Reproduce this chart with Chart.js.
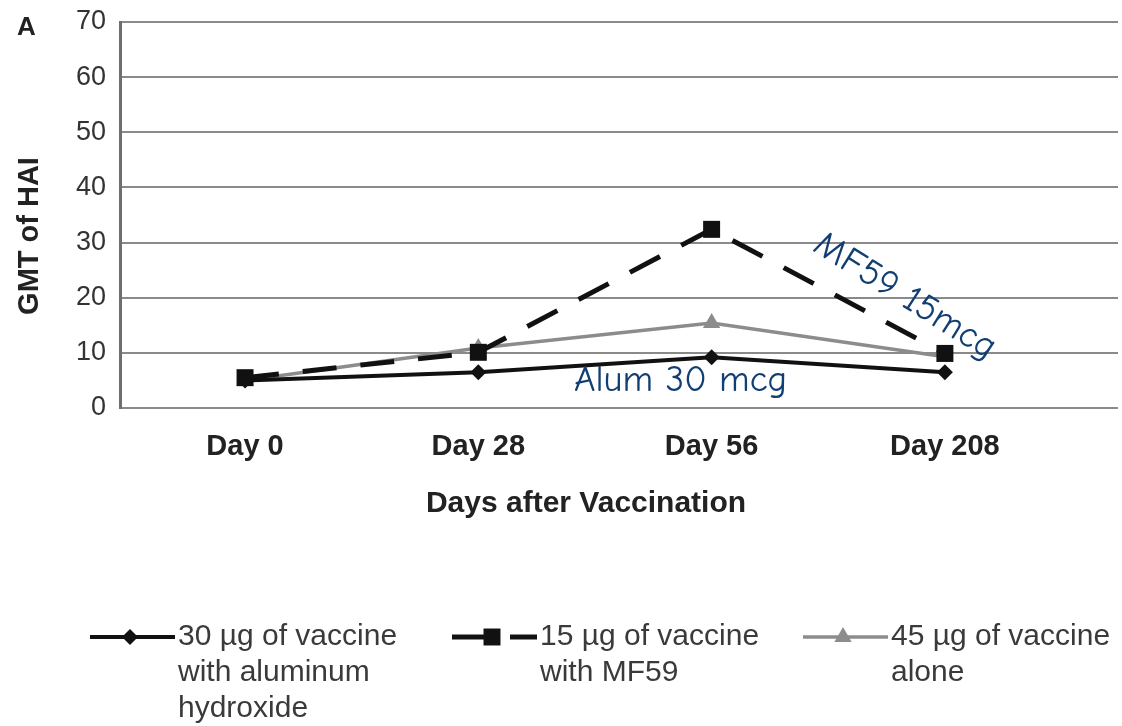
<!DOCTYPE html>
<html>
<head>
<meta charset="utf-8">
<script src="https://cdn.jsdelivr.net/npm/chart.js@4.4.1/dist/chart.umd.min.js"></script>
<style>
  html, body { margin: 0; padding: 0; background: #fff; }
  #wrap { width: 1122px; height: 726px; position: relative; }
</style>
</head>
<body>
<div id="wrap"><canvas id="hai"></canvas></div>
<script>
// data
const categories = ['Day 0', 'Day 28', 'Day 56', 'Day 208'];
const alumValues = [5.0, 6.5, 9.2, 6.5];
const mf59Values = [5.5, 10.1, 32.4, 9.9];
const aloneValues = [5.0, 10.9, 15.4, 9.3];
const yTickValues = [0, 10, 20, 30, 40, 50, 60, 70];

const legendTexts = [
    ['30 µg of vaccine', 'with aluminum', 'hydroxide'],
    ['15 µg of vaccine', 'with MF59'],
    ['45 µg of vaccine', 'alone']
];

function toPoints(values) {
    return values.map((v, i) => ({ x: i, y: v }));
}

// little marker drawer for the hand made legend
function drawMarker(ctx, style, x, y, r, color) {
    ctx.save();
    ctx.fillStyle = color;
    ctx.beginPath();
    if (style === 'rectRot') {
        ctx.moveTo(x - r, y); ctx.lineTo(x, y - r); ctx.lineTo(x + r, y); ctx.lineTo(x, y + r);
    } else if (style === 'rect') {
        let s = r * Math.SQRT1_2;
        ctx.rect(x - s, y - s, 2 * s, 2 * s);
    } else {
        let w = r * 0.866;
        ctx.moveTo(x, y - r); ctx.lineTo(x + w, y + r * 0.5); ctx.lineTo(x - w, y + r * 0.5);
    }
    ctx.closePath();
    ctx.fill();
    ctx.restore();
}

const extras = {
    id: 'extras',
    afterDraw(chart) {
        const ctx = chart.ctx;
        ctx.save();

        // panel letter
        ctx.fillStyle = '#222';
        ctx.font = 'bold 26px "Liberation Sans", Arial, sans-serif';
        ctx.textAlign = 'left';
        ctx.textBaseline = 'middle';
        ctx.fillText('A', 17, 28);

        // y title
        ctx.save();
        ctx.translate(30, 236);
        ctx.rotate(-Math.PI / 2);
        ctx.textAlign = 'center';
        ctx.font = 'bold 29px "Liberation Sans", Arial, sans-serif';
        ctx.fillText('GMT of HAI', 0, 0);
        ctx.restore();

        // x title (centred under the categories, not the whole grid)
        ctx.font = 'bold 30px "Liberation Sans", Arial, sans-serif';
        ctx.textAlign = 'center';
        ctx.fillText('Days after Vaccination', 586, 504);

        // handwritten notes
        ctx.fillStyle = '#123f73';
        ctx.font = '37px "Comic Sans MS", "Comic Neue", "DejaVu Sans", sans-serif';
        ctx.textAlign = 'left';
        ctx.fillText('Alum 30 mcg', 574, 381);
        ctx.save();
        ctx.translate(905, 296);
        ctx.rotate(32 * Math.PI / 180);
        ctx.textAlign = 'center';
        ctx.fillText('MF59 15mcg', 0, 0);
        ctx.restore();

        // legend
        const starts = [90, 452, 803];
        chart.data.datasets.forEach((ds, k) => {
            let x0 = starts[k], x1 = x0 + 85, y = 637;
            ctx.save();
            ctx.strokeStyle = ds.borderColor;
            ctx.lineWidth = ds.borderWidth;
            ctx.setLineDash(ds.borderDash || []);
            ctx.beginPath();
            ctx.moveTo(x0, y); ctx.lineTo(x1, y);
            ctx.stroke();
            ctx.restore();
            drawMarker(ctx, ds.pointStyle, x0 + 40, y, ds.pointRadius, ds.pointBackgroundColor);

            ctx.fillStyle = '#3a3a3a';
            ctx.font = '30px "Liberation Sans", Arial, sans-serif';
            ctx.textAlign = 'left';
            ctx.textBaseline = 'middle';
            legendTexts[k].forEach((line, j) => {
                ctx.fillText(line, x1 + 3, y + j * 36);
            });
        });
        ctx.restore();
    }
};

const ctx = document.getElementById('hai').getContext('2d');
new Chart(ctx, {
    type: 'line',
    data: {
        datasets: [
            {
                label: '30 µg of vaccine with aluminum hydroxide',
                data: toPoints(alumValues),
                borderColor: '#111',
                borderWidth: 4,
                pointStyle: 'rectRot',
                pointRadius: 8,
                pointBackgroundColor: '#111',
                pointBorderWidth: 0
            },
            {
                label: '15 µg of vaccine with MF59',
                data: toPoints(mf59Values),
                borderColor: '#111',
                borderWidth: 5,
                borderDash: [34, 24],
                pointStyle: 'rect',
                pointRadius: 12,
                pointBackgroundColor: '#111',
                pointBorderWidth: 0
            },
            {
                label: '45 µg of vaccine alone',
                data: toPoints(aloneValues),
                borderColor: '#8c8c8c',
                borderWidth: 3.5,
                pointStyle: 'triangle',
                pointRadius: 10,
                pointBackgroundColor: '#8c8c8c',
                pointBorderWidth: 0
            }
        ]
    },
    options: {
        responsive: true,
        maintainAspectRatio: false,
        animation: false,
        layout: { autoPadding: false, padding: { top: 22, right: 4, left: 0, bottom: 0 } },
        plugins: {
            legend: { display: false },
            tooltip: { enabled: false }
        },
        scales: {
            x: {
                type: 'linear',
                min: -0.536,
                max: 3.742,
                afterBuildTicks: (scale) => {
                    scale.ticks = categories.map((c, i) => ({ value: i }));
                },
                afterFit: (scale) => {
                    scale.height = 318;
                    scale.paddingLeft = 0; scale.paddingRight = 0;
                },
                grid: { display: false, drawTicks: false },
                border: { display: false },
                ticks: {
                    callback: (v) => categories[v],
                    padding: 22,
                    color: '#222',
                    font: { family: '"Liberation Sans", Arial, sans-serif', size: 29, weight: 'bold' }
                }
            },
            y: {
                min: 0,
                max: 70,
                afterBuildTicks: (scale) => {
                    scale.ticks = yTickValues.map(v => ({ value: v }));
                },
                afterFit: (scale) => {
                    scale.width = 120;
                    scale.paddingTop = 0; scale.paddingBottom = 0;
                },
                grid: { color: '#8a8a8a', lineWidth: 2, drawTicks: false },
                border: { display: true, color: '#6e6e6e', width: 3 },
                ticks: {
                    padding: 14,
                    color: '#333',
                    font: { family: '"Liberation Sans", Arial, sans-serif', size: 27 }
                }
            }
        }
    },
    plugins: [extras]
});
</script>
</body>
</html>
